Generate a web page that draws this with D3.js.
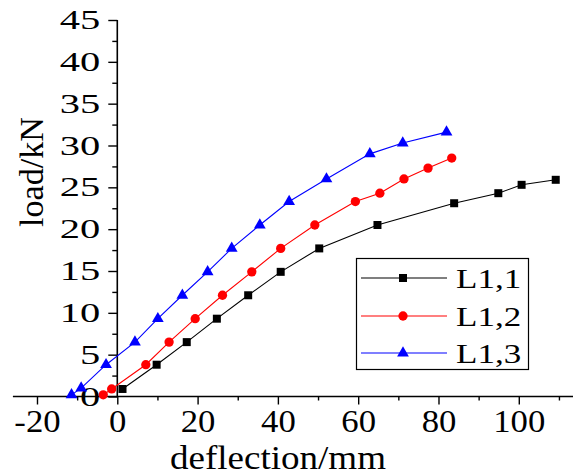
<!DOCTYPE html>
<html>
<head>
<meta charset="utf-8">
<script src="https://cdn.jsdelivr.net/npm/d3@7"></script>
<style>
  body { margin: 0; background: #fff; }
  text { font-family: "Liberation Serif", "Times New Roman", serif; fill: #000; }
</style>
</head>
<body>
<div id="chart"></div>
<script>
// ---------------- data ----------------
const seriesNames = ["L1,1", "L1,2", "L1,3"];
const seriesColors = ["#000000", "#ff0000", "#0000ff"];

const l11x = [1.3, 9.8, 17.3, 24.8, 32.6, 40.7, 50.3, 64.8, 83.9, 94.9, 100.7, 109.2];
const l11y = [0.9, 3.8, 6.5, 9.3, 12.1, 14.9, 17.7, 20.5, 23.1, 24.3, 25.3, 25.9];

const l12x = [-3.5, -1.4, 7.1, 12.9, 19.4, 26.2, 33.5, 40.7, 49.2, 59.3, 65.4, 71.4, 77.4, 83.3];
const l12y = [0.2, 0.9, 3.8, 6.5, 9.3, 12.1, 14.9, 17.7, 20.5, 23.3, 24.3, 26.0, 27.3, 28.5];

const l13x = [-11.4, -9.0, -2.8, 4.4, 10.1, 16.2, 22.5, 28.5, 35.5, 42.8, 52.1, 62.9, 71.1, 82.0];
const l13y = [0.2, 1.0, 3.8, 6.5, 9.3, 12.1, 14.9, 17.7, 20.5, 23.3, 26.0, 29.0, 30.3, 31.6];

const xTicks = [-20, 0, 20, 40, 60, 80, 100];
const yTicks = [0, 5, 10, 15, 20, 25, 30, 35, 40, 45];

// ---------------- set-up ----------------
const W = 573, H = 476;
const x = d3.scaleLinear().domain([-26, 114]).range([12.9, 575]);
const y = d3.scaleLinear().domain([0, 45]).range([396.5, 20]);

const svg = d3.select("#chart").append("svg")
    .attr("width", W)
    .attr("height", H);

// stretch text horizontally like the original
function stretch(sel, k) {
  sel.each(function() {
    const len = this.getComputedTextLength();
    d3.select(this).attr("textLength", len * k).attr("lengthAdjust", "spacingAndGlyphs");
  });
}

// ---------------- axes ----------------
const xAxis = svg.append("g")
    .attr("transform", "translate(0," + y(0) + ")")
    .call(d3.axisBottom(x).tickValues(xTicks).tickSize(8).tickPadding(5).tickFormat(d3.format("d")));
svg.append("g")
    .attr("transform", "translate(0," + y(0) + ")")
    .call(d3.axisBottom(x).tickValues(d3.range(-10, 114, 20)).tickSize(4).tickFormat(""))
    .select(".domain").remove();

const yAxis = svg.append("g")
    .attr("transform", "translate(" + x(0) + ",0)")
    .call(d3.axisLeft(y).tickValues(yTicks).tickSize(9).tickPadding(8));
svg.append("g")
    .attr("transform", "translate(" + x(0) + ",0)")
    .call(d3.axisLeft(y).tickValues(d3.range(2.5, 45, 5)).tickSize(5).tickFormat(""))
    .select(".domain").remove();

svg.selectAll(".domain").attr("stroke", "#000").attr("stroke-width", 1.6);
svg.selectAll(".tick line").attr("stroke", "#000").attr("stroke-width", 1.4);

// outer tick ends are drawn by the domain path; keep it a plain line
xAxis.select(".domain").attr("d", "M" + x(-26) + ",0H" + W);
yAxis.select(".domain").attr("d", "M0," + y(45) + "V" + y(0));

xAxis.selectAll(".tick text")
    .style("font-size", "31px")
    .style("font-family", "'Liberation Serif', serif")
    .text(d => d < 0 ? "-" + Math.abs(d) : d)
    .call(stretch, 1.12);

yAxis.selectAll(".tick text")
    .style("font-size", "27px")
    .style("font-family", "'Liberation Serif', serif")
    .call(stretch, 1.5);

// axis titles
svg.append("text")
    .attr("x", 278)
    .attr("y", 469)
    .attr("text-anchor", "middle")
    .style("font-size", "33px")
    .attr("textLength", 216)
    .attr("lengthAdjust", "spacingAndGlyphs")
    .text("deflection/mm");

svg.append("text")
    .attr("transform", "translate(43,172) rotate(-90)")
    .attr("text-anchor", "middle")
    .style("font-size", "34px")
    .attr("textLength", 110)
    .attr("lengthAdjust", "spacingAndGlyphs")
    .text("load/kN");

// ---------------- series ----------------
const series = [
  {xs: l11x, ys: l11y, sym: d3.symbolSquare, size: 64},
  {xs: l12x, ys: l12y, sym: d3.symbolCircle, size: 68},
  {xs: l13x, ys: l13y, sym: d3.symbolTriangle, size: 60}
];

const line = d3.line().x(d => x(d[0])).y(d => y(d[1]));

series.forEach(function(s, i) {
  const pts = s.xs.map((v, j) => [v, s.ys[j]]);
  svg.append("path")
    .datum(pts)
    .attr("fill", "none")
    .attr("stroke", seriesColors[i])
    .attr("stroke-width", 1.1)
    .attr("d", line);
  svg.append("g").selectAll("path")
    .data(pts)
    .enter().append("path")
    .attr("transform", d => "translate(" + x(d[0]) + "," + y(d[1]) + ")")
    .attr("d", d3.symbol().type(s.sym).size(s.size))
    .attr("fill", seriesColors[i]);
});

// ---------------- legend ----------------
const legend = svg.append("g");
legend.append("rect")
    .attr("x", 356.5).attr("y", 258.5)
    .attr("width", 172).attr("height", 111)
    .attr("fill", "#fff").attr("stroke", "#000").attr("stroke-width", 1.2);

const rows = [278, 316, 353];
seriesNames.forEach(function(name, i) {
  const g = legend.append("g").attr("transform", "translate(0," + rows[i] + ")");
  g.append("line")
    .attr("x1", 361).attr("x2", 447)
    .attr("stroke", seriesColors[i]).attr("stroke-width", 1.1);
  g.append("path")
    .attr("transform", "translate(403,0)")
    .attr("d", d3.symbol().type(series[i].sym).size(series[i].size))
    .attr("fill", seriesColors[i]);
  g.append("text")
    .attr("x", 456).attr("y", 9.5)
    .style("font-size", "28px")
    .text(name)
    .call(stretch, 1.25);
});
</script>
</body>
</html>
